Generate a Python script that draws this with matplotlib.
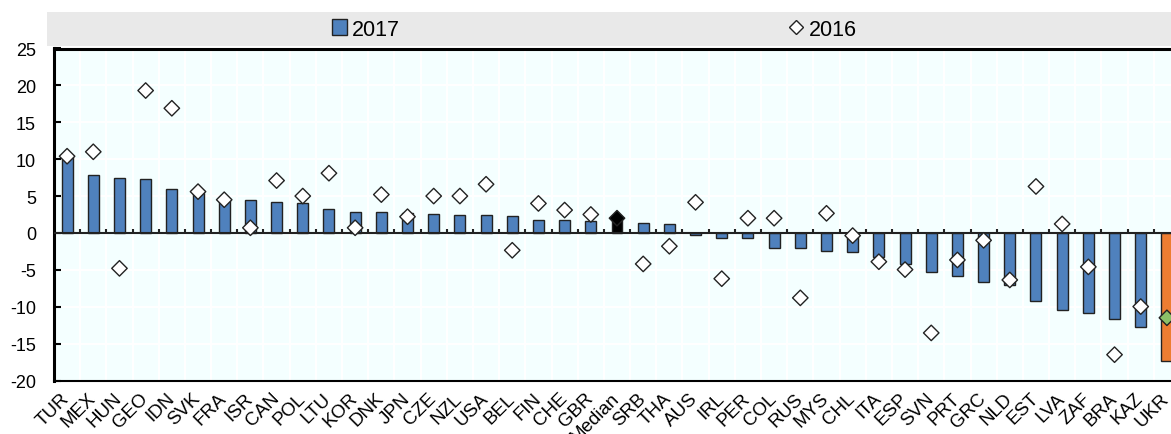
import matplotlib
matplotlib.use("Agg")
import matplotlib.pyplot as plt
import matplotlib.transforms as mtransforms
from matplotlib.lines import Line2D
from matplotlib.patches import Patch, Rectangle
import numpy as np

countries = ["TUR", "MEX", "HUN", "GEO", "IDN", "SVK", "FRA", "ISR", "CAN", "POL",
             "LTU", "KOR", "DNK", "JPN", "CZE", "NZL", "USA", "BEL", "FIN", "CHE",
             "GBR", "Median", "SRB", "THA", "AUS", "IRL", "PER", "COL", "RUS", "MYS",
             "CHL", "ITA", "ESP", "SVN", "PRT", "GRC", "NLD", "EST", "LVA", "ZAF",
             "BRA", "KAZ", "UKR"]
v2017 = [10.5, 7.9, 7.4, 7.3, 5.9, 5.4, 4.4, 4.5, 4.15, 4.05,
         3.3, 2.85, 2.8, 2.7, 2.6, 2.45, 2.45, 2.35, 1.8, 1.8,
         1.6, 1.8, 1.35, 1.25, -0.25, -0.7, -0.7, -2.0, -2.0, -2.5,
         -2.65, -3.2, -4.25, -5.3, -5.9, -6.7, -7.0, -9.25, -10.4, -10.9,
         -11.6, -12.8, -17.4]
v2016 = [10.4, 11.0, -4.8, 19.3, 16.9, 5.6, 4.5, 0.7, 7.1, 5.0,
         8.1, 0.7, 5.2, 2.2, 5.0, 5.0, 6.6, -2.35, 4.0, 3.1,
         2.5, 2.0, -4.2, -1.8, 4.15, -6.2, 2.0, 2.0, -8.8, 2.66,
         -0.36, -3.9, -4.97, -13.55, -3.66, -1.0, -6.37, 6.3, 1.22, -4.6,
         -16.5, -9.98, -11.5]
yticks = [-20, -15, -10, -5, 0, 5, 10, 15, 20, 25]

BLUE = "#4F81BD"
ORANGE = "#ED7D31"
GREEN = "#8CC168"
BG = "#F4FFFF"
BAND = "#E9E9E9"

plt.rcParams["font.family"] = ["Liberation Sans", "DejaVu Sans"]
plt.rcParams["axes.unicode_minus"] = False

fig = plt.figure(figsize=(11.71, 4.35), dpi=100)

# grey legend band behind the legend
fig.patches.append(Rectangle((47 / 1171, 1 - 47 / 435), 1.0, 34 / 435,
                             transform=fig.transFigure, facecolor=BAND,
                             edgecolor="none", zorder=0))

ax = fig.add_axes((54 / 1171, 53.5 / 435, 1126 / 1171, 332 / 435))
ax.set_facecolor(BG)

x = np.arange(len(countries))
bar_colors = [BLUE] * len(countries)
bar_colors[countries.index("Median")] = "black"
bar_colors[countries.index("UKR")] = ORANGE
ax.bar(x, v2017, width=0.42, color=bar_colors, edgecolor="#222222",
       linewidth=1.0, zorder=3)

dia_colors = ["white"] * len(countries)
dia_colors[countries.index("Median")] = "black"
dia_colors[countries.index("UKR")] = GREEN
ax.scatter(x, v2016, marker="D", s=62, c=dia_colors, edgecolors="#222222",
           linewidths=1.0, zorder=4)

ax.set_xlim(-0.5, len(countries) - 0.5)
ax.set_ylim(-20, 25)
ax.set_yticks(yticks)
ax.set_yticklabels([str(t) for t in yticks], fontsize=13)
ax.tick_params(axis="y", direction="in", length=5, width=1.5, pad=13)

ax.set_xticks(x)
ax.set_xticklabels(countries, rotation=45, ha="right", va="baseline",
                   rotation_mode="anchor", fontsize=13.5)
ax.tick_params(axis="x", length=0, pad=13)
shift = mtransforms.ScaledTranslation(3 / 100, 0, fig.dpi_scale_trans)
for lab in ax.get_xticklabels():
    lab.set_transform(lab.get_transform() + shift)

# white grid on category boundaries and y ticks
bounds = np.arange(len(countries) + 1) - 0.5
for b in bounds[1:-1]:
    ax.axvline(b, color="white", linewidth=1.5, zorder=1)
for t in yticks:
    ax.axhline(t, color="white", linewidth=1.5, zorder=1)

# zero line with small upward ticks at the boundaries
ax.axhline(0, color="#222222", linewidth=1.5, zorder=3.5)
ax.vlines(bounds[1:-1], 0, 0.6, color="#222222", linewidth=1.5, zorder=3.5)

for side in ["top", "left"]:
    ax.spines[side].set_linewidth(2.2)
ax.spines["bottom"].set_linewidth(1.5)
ax.spines["right"].set_visible(False)

leg_font = {"size": 15.5}
h17 = Patch(facecolor=BLUE, edgecolor="#222222", linewidth=1.0, label="2017")
h16 = Line2D([], [], marker="D", linestyle="none", markersize=7,
             markerfacecolor="white", markeredgecolor="#222222", label="2016")
fig.legend(handles=[h17], loc="center", bbox_to_anchor=(366 / 1171, 1 - 30 / 435),
           frameon=False, prop=leg_font, handlelength=0.7, handleheight=0.7,
           handletextpad=0.25, borderpad=0)
fig.legend(handles=[h16], loc="center", bbox_to_anchor=(823 / 1171, 1 - 30 / 435),
           frameon=False, prop=leg_font, handlelength=0.7, handletextpad=0.25,
           borderpad=0)

fig.savefig("out.png", dpi=100)
